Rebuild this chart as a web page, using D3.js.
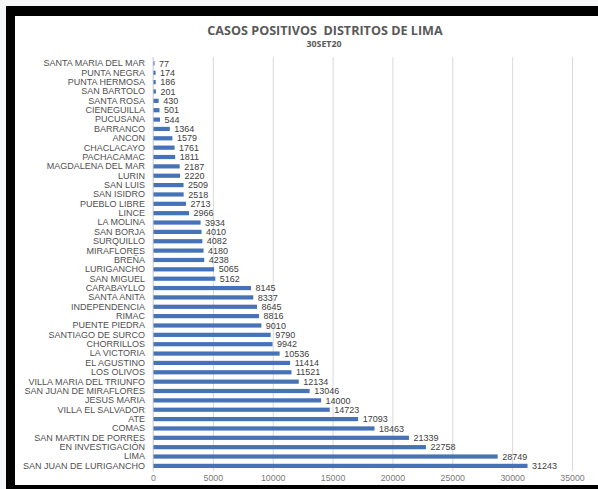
<!DOCTYPE html>
<html><head><meta charset="utf-8">
<script src="https://cdn.jsdelivr.net/npm/d3@7"></script>
<style>body{margin:0;background:#fff}svg{display:block}</style>
</head><body>
<svg id="c" width="598" height="489"></svg>
<script>
const categories = ["SANTA MARIA DEL MAR","PUNTA NEGRA","PUNTA HERMOSA","SAN BARTOLO","SANTA ROSA","CIENEGUILLA","PUCUSANA","BARRANCO","ANCON","CHACLACAYO","PACHACAMAC","MAGDALENA DEL MAR","LURIN","SAN LUIS","SAN ISIDRO","PUEBLO LIBRE","LINCE","LA MOLINA","SAN BORJA","SURQUILLO","MIRAFLORES","BREÑA","LURIGANCHO","SAN MIGUEL","CARABAYLLO","SANTA ANITA","INDEPENDENCIA","RIMAC","PUENTE PIEDRA","SANTIAGO DE SURCO","CHORRILLOS","LA VICTORIA","EL AGUSTINO","LOS OLIVOS","VILLA MARIA DEL TRIUNFO","SAN JUAN DE MIRAFLORES","JESUS MARIA","VILLA EL SALVADOR","ATE","COMAS","SAN MARTIN DE PORRES","EN INVESTIGACIÓN","LIMA","SAN JUAN DE LURIGANCHO"];
const values = [77,174,186,201,430,501,544,1364,1579,1761,1811,2187,2220,2509,2518,2713,2966,3934,4010,4082,4180,4238,5065,5162,8145,8337,8645,8816,9010,9790,9942,10536,11414,11521,12134,13046,14000,14723,17093,18463,21339,22758,28749,31243];
const tickValues = [0,5000,10000,15000,20000,25000,30000,35000];
const title = "CASOS POSITIVOS  DISTRITOS DE LIMA";
const subtitle = "30SET20";

const svg = d3.select("#c");
svg.append("rect").attr("x",0).attr("y",0).attr("width",598).attr("height",489).attr("fill","#f4f6f8");
svg.append("rect").attr("x",6).attr("y",6).attr("width",592).attr("height",483).attr("fill","#000");
svg.append("rect").attr("x",15).attr("y",16).attr("width",583).attr("height",469).attr("fill","#fff");

const font = "'Liberation Sans', Arial, sans-serif";
svg.append("text").attr("x",325).attr("y",35).attr("text-anchor","middle")
  .attr("font-family","'Open Sans', sans-serif").attr("font-weight","bold").attr("font-size",12.6)
  .attr("fill","#595959").attr("xml:space","preserve").text(title);
svg.append("text").attr("x",324).attr("y",47).attr("text-anchor","middle")
  .attr("font-family","'Open Sans', sans-serif").attr("font-weight","bold").attr("font-size",8.8)
  .attr("fill","#595959").text(subtitle);

const x = d3.scaleLinear().domain([0,35000]).range([153,572]);
const y = d3.scaleBand().domain(categories).range([58.5,470.8]).paddingInner(0.55).paddingOuter(0.3);

const gx = svg.append("g").attr("transform","translate(0,471)")
  .call(d3.axisBottom(x).tickValues(tickValues).tickSize(-414).tickFormat(d=>d));
gx.select(".domain").remove();
gx.selectAll(".tick line").attr("stroke","#d9d9d9").attr("stroke-width",1);
gx.selectAll(".tick text").attr("font-family",font).attr("font-size",8.8).attr("fill","#7a7a7a").attr("dy","0.85em");

svg.append("line").attr("x1",x(0)).attr("x2",x(0)).attr("y1",57).attr("y2",471).attr("stroke","#d9d9d9");

const gy = svg.append("g").attr("transform",`translate(${x(0)},0)`)
  .call(d3.axisLeft(y).tickSize(0).tickPadding(8));
gy.select(".domain").remove();
gy.selectAll(".tick text").attr("font-family",font).attr("font-size",9).attr("fill","#505050");

svg.append("g").selectAll("rect").data(categories).join("rect")
  .attr("x",x(0)+0.5).attr("y",d=>y(d))
  .attr("width",(d,i)=>Math.max(1,x(values[i])-x(0)))
  .attr("height",y.bandwidth()).attr("fill","#4672b8");

svg.append("g").selectAll("text").data(categories).join("text")
  .attr("x",(d,i)=>x(values[i])+5).attr("y",d=>y(d)+y.bandwidth()/2).attr("dy","0.35em")
  .attr("font-family",font).attr("font-size",9).attr("fill","#404040")
  .text((d,i)=>values[i]);
</script>
</body></html>
